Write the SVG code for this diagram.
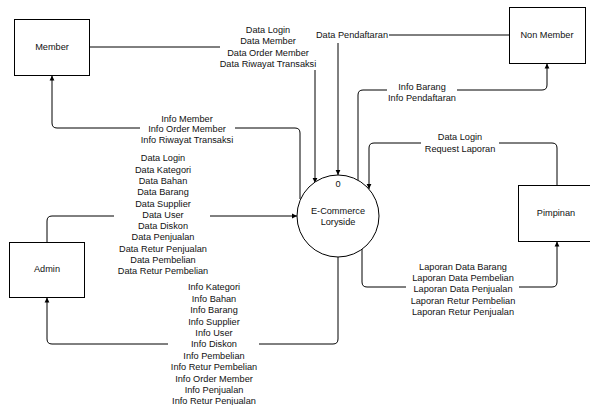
<svg xmlns="http://www.w3.org/2000/svg" width="590" height="405" viewBox="0 0 590 405">
  <style>
    .box { fill: #fff; stroke: #000; stroke-width: 1; }
    .flow { fill: none; stroke: #000; stroke-width: 1; marker-end: url(#arrow); }
    .plain { fill: none; stroke: #000; stroke-width: 1; }
    .bg { fill: #fff; stroke: none; }
    text { font-family: "Liberation Sans", Arial, sans-serif; font-size: 9.2px; fill: #111; text-anchor: middle; }
  </style>
  <defs>
    <marker id="arrow" markerUnits="userSpaceOnUse" markerWidth="6" markerHeight="6" refX="5" refY="3" orient="auto">
      <path d="M0,0.6 L5,3 L0,5.4 z" fill="#000"/>
    </marker>
  </defs>
  <rect width="590" height="405" fill="#fff"/>

  <!-- data flows -->
  <g id="connectors">
    <path class="flow" d="M89,47 H315 V183"/>
    <path class="flow" d="M509,35 H338 V175"/>
    <path class="flow" d="M358,180 V95 Q358,90 363,90 H542 Q547,90 547,85 V63.5"/>
    <path class="flow" d="M557,185 V148 Q557,143 552,143 H374 Q369,143 369,148 V189"/>
    <path class="flow" d="M362,249 V282 Q362,287 367,287 H552 Q557,287 557,282 V241.5"/>
    <path class="flow" d="M338,257 V339 Q338,344 333,344 H52 Q47,344 47,339 V297.5"/>
    <path class="flow" d="M47,242 V221 Q47,216 52,216 H297"/>
    <path class="flow" d="M300,199 V133 Q300,128 295,128 H57 Q52,128 52,123 V75.5"/>

    <!-- flow labels -->
    <g id="lbl-member-in">
      <rect class="bg" x="220" y="23" width="97" height="47"/>
      <text x="268" y="32.7">Data Login</text>
      <text x="268" y="44.1">Data Member</text>
      <text x="268" y="55.5">Data Order Member</text>
      <text x="268" y="66.9">Data Riwayat Transaksi</text>
    </g>
    <g id="lbl-nonmember-in">
      <rect class="bg" x="316" y="29" width="73" height="14"/>
      <text x="352" y="38.3">Data Pendaftaran</text>
    </g>
    <g id="lbl-nonmember-out">
      <rect class="bg" x="387" y="80" width="70" height="24"/>
      <text x="422" y="89.8">Info Barang</text>
      <text x="422" y="101.3">Info Pendaftaran</text>
    </g>
    <g id="lbl-pimpinan-in">
      <rect class="bg" x="421" y="131" width="78" height="24"/>
      <text x="460" y="140.3">Data Login</text>
      <text x="460" y="151.8">Request Laporan</text>
    </g>
    <g id="lbl-pimpinan-out">
      <rect class="bg" x="406" y="260" width="113" height="58"/>
      <text x="463" y="270">Laporan Data Barang</text>
      <text x="463" y="281.2">Laporan Data Pembelian</text>
      <text x="463" y="292.4">Laporan Data Penjualan</text>
      <text x="463" y="303.6">Laporan Retur Pembelian</text>
      <text x="463" y="314.8">Laporan Retur Penjualan</text>
    </g>
    <g id="lbl-member-out">
      <rect class="bg" x="140" y="112" width="95" height="33"/>
      <text x="187" y="121.5">Info Member</text>
      <text x="187" y="132.2">Info Order Member</text>
      <text x="187" y="142.9">Info Riwayat Transaksi</text>
    </g>
    <g id="lbl-admin-in">
      <rect class="bg" x="114" y="151" width="96" height="126"/>
      <text x="163" y="161.3">Data Login</text>
      <text x="163" y="172.6">Data Kategori</text>
      <text x="163" y="183.9">Data Bahan</text>
      <text x="163" y="195.2">Data Barang</text>
      <text x="163" y="206.5">Data Supplier</text>
      <text x="163" y="217.8">Data User</text>
      <text x="163" y="229.1">Data Diskon</text>
      <text x="163" y="240.4">Data Penjualan</text>
      <text x="163" y="251.7">Data Retur Penjualan</text>
      <text x="163" y="263">Data Pembelian</text>
      <text x="163" y="274.3">Data Retur Pembelian</text>
    </g>
    <g id="lbl-admin-out">
      <rect class="bg" x="168" y="281" width="91" height="124"/>
      <text x="214" y="290.3">Info Kategori</text>
      <text x="214" y="301.7">Info Bahan</text>
      <text x="214" y="313.1">Info Barang</text>
      <text x="214" y="324.5">Info Supplier</text>
      <text x="214" y="335.9">Info User</text>
      <text x="214" y="347.3">Info Diskon</text>
      <text x="214" y="358.7">Info Pembelian</text>
      <text x="214" y="370.1">Info Retur Pembelian</text>
      <text x="214" y="381.5">Info Order Member</text>
      <text x="214" y="392.9">Info Penjualan</text>
      <text x="214" y="404.3">Info Retur Penjualan</text>
    </g>
  </g>

  <!-- external entities -->
  <g id="member">
    <rect class="box" x="14.5" y="19.5" width="75" height="56"/>
    <text x="52" y="50.3">Member</text>
  </g>
  <g id="non-member">
    <rect class="box" x="509.5" y="7.5" width="76" height="56"/>
    <text x="547" y="38.3">Non Member</text>
  </g>
  <g id="pimpinan">
    <rect class="box" x="518.5" y="185.5" width="78" height="56"/>
    <text x="556" y="216.3">Pimpinan</text>
  </g>
  <g id="admin">
    <rect class="box" x="9.5" y="242.5" width="75" height="55"/>
    <text x="47" y="271.5">Admin</text>
  </g>

  <!-- process -->
  <g id="process-0">
    <circle class="box" cx="338" cy="216" r="41"/>
    <text x="338" y="186.5">0</text>
    <text x="338" y="214.3">E-Commerce</text>
    <text x="338" y="225.3">Loryside</text>
  </g>
</svg>
